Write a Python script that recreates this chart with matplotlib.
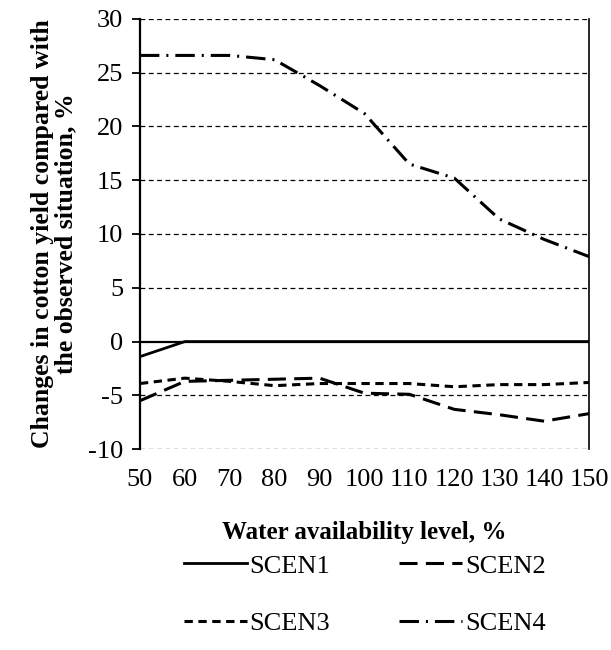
import numpy as np
import matplotlib.pyplot as plt

plt.rcParams['font.family'] = ['Liberation Serif', 'DejaVu Serif']
plt.rcParams['lines.scale_dashes'] = False
plt.rcParams['axes.unicode_minus'] = False

# water availability levels (%)
levels = [50, 60, 70, 80, 90, 100, 110, 120, 130, 140, 150]

# changes in cotton yield (%)
scen1 = [-1.4, 0, 0, 0, 0, 0, 0, 0, 0, 0, 0]
scen2 = [-5.5, -3.7, -3.6, -3.5, -3.4, -4.8, -4.9, -6.3, -6.8, -7.4, -6.7]
scen3 = [-3.9, -3.4, -3.7, -4.1, -3.9, -3.9, -3.9, -4.2, -4.0, -4.0, -3.8]
scen4 = [26.6, 26.6, 26.6, 26.2, 23.8, 21.2, 16.5, 15.2, 11.4, 9.5, 7.9]

fig = plt.figure(figsize=(6.11, 6.5), dpi=100)
ax = fig.add_axes([0.229, 0.309, 0.735, 0.662])

# gridlines (dashed) except the zero line
for v in [-10, -5, 5, 10, 15, 20, 25, 30]:
    ax.axhline(v, color='black', lw=0.9, ls=(0, (3.5, 2.5)), zorder=1)
ax.axhline(0, color='black', lw=1.6, zorder=2)

l1, = ax.plot(levels, scen1, color='black', lw=2.0, ls='-', label='SCEN1', zorder=3)
l2, = ax.plot(levels, scen2, color='black', lw=2.2, ls=(0, (13, 6)), label='SCEN2', zorder=3)
l3, = ax.plot(levels, scen3, color='black', lw=2.2, ls=(0, (6, 4)), label='SCEN3', zorder=3)
l4, = ax.plot(levels, scen4, color='black', lw=2.2, ls=(0, (14, 5, 1.5, 5)), label='SCEN4', zorder=3)

ax.set_xlim(50, 150)
ax.set_ylim(-10, 30)
ax.set_xticks(levels)
ax.set_yticks(np.arange(-10, 31, 5))
ax.tick_params(axis='x', length=0, labelsize=19, pad=14)
ax.tick_params(axis='y', direction='out', length=6, width=1.3, labelsize=19, pad=6)

ax.spines['top'].set_visible(False)
ax.spines['bottom'].set_visible(False)
ax.spines['left'].set_linewidth(1.6)
ax.spines['right'].set_linewidth(1.2)

ax.set_ylabel('Changes in cotton yield compared with\nthe observed situation, %',
              fontsize=18.5, fontweight='bold', labelpad=8, linespacing=1.0)
ax.set_xlabel('Water availability level, %', fontsize=18, fontweight='bold', labelpad=22)

# column-major fill -> reorder so rows read SCEN1 SCEN2 / SCEN3 SCEN4
fig.legend([l1, l3, l2, l4], ['SCEN1', 'SCEN3', 'SCEN2', 'SCEN4'],
           loc='center', bbox_to_anchor=(0.597, 0.085), ncol=2, frameon=False,
           fontsize=19, handlelength=2.4, handletextpad=0.1, columnspacing=2.6,
           labelspacing=1.3)

fig.savefig('out.png', dpi=100)
